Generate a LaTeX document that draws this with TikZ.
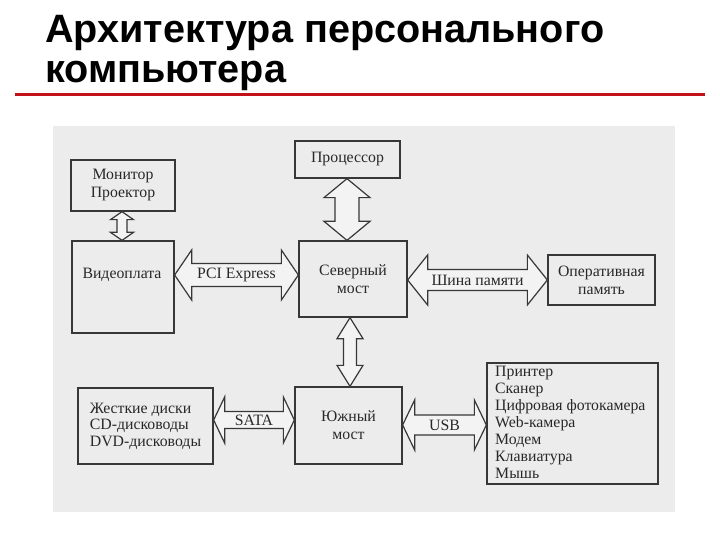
\documentclass[tikz,border=0pt]{standalone}
\usepackage{fontspec}
\setmainfont{Liberation Serif}
\newfontfamily\titlefont{Liberation Sans}
\usetikzlibrary{calc}
\definecolor{scanbg}{RGB}{236,236,236}
\definecolor{ink}{RGB}{40,40,40}
\definecolor{edge}{RGB}{55,55,55}
\definecolor{titlered}{RGB}{192,18,24}
\definecolor{arrfill}{RGB}{243,243,243}
\tikzset{
  box/.style={draw=edge, line width=1.3pt, fill=scanbg, inner sep=0pt, text=ink,
    font=\fontsize{15.8}{18}\selectfont, align=center},
  boxtext/.style={inner sep=0pt, text=ink, font=\fontsize{15.8}{18}\selectfont, align=center},
  blockarr/.style={draw=edge, line width=1.2pt, fill=arrfill, line join=miter},
  arrlabel/.style={text=ink, font=\fontsize{15.8}{18}\selectfont, inner sep=0pt},
  titletext/.style={anchor=base west, inner sep=0pt, text=black,
    font=\titlefont\bfseries\fontsize{39.6}{40}\selectfont},
}
% horizontal double block arrow: left anchor, right anchor, y, head length, head half-height, shaft half-height, label
\newcommand\harr[7]{%
  \draw[blockarr] let \p1=(#1), \p2=(#2), \p3=(0,#3) in
    (\x1,\y3) -- (\x1+#4pt,\y3+#5pt) -- (\x1+#4pt,\y3+#6pt) -- (\x2-#4pt,\y3+#6pt)
    -- (\x2-#4pt,\y3+#5pt) -- (\x2,\y3) -- (\x2-#4pt,\y3-#5pt) -- (\x2-#4pt,\y3-#6pt)
    -- (\x1+#4pt,\y3-#6pt) -- (\x1+#4pt,\y3-#5pt) -- cycle;
  \path let \p1=(#1), \p2=(#2), \p3=(0,#3) in
    ({(\x1+\x2)/2},\y3) node[arrlabel] {#7};}
% vertical double block arrow: top anchor, bottom anchor, x, head length, head half-width, shaft half-width
\newcommand\varr[6]{%
  \draw[blockarr] let \p1=(#1), \p2=(#2), \p3=(#3,0) in
    (\x3,\y1) -- (\x3+#5pt,\y1-#4pt) -- (\x3+#6pt,\y1-#4pt) -- (\x3+#6pt,\y2+#4pt)
    -- (\x3+#5pt,\y2+#4pt) -- (\x3,\y2) -- (\x3-#5pt,\y2+#4pt) -- (\x3-#6pt,\y2+#4pt)
    -- (\x3-#6pt,\y1-#4pt) -- (\x3-#5pt,\y1-#4pt) -- cycle;}
\begin{document}
\begin{tikzpicture}[x=1pt, y=-1pt]
  \useasboundingbox (0,0) rectangle (720,540);
  \fill[white] (0,0) rectangle (720,540);
  % title
  \node[titletext] (title1) at (45,43) {Архитектура персонального};
  \node[titletext] (title2) at (45,83) {компьютера};
  \draw[titlered, line width=3pt] (15,95) -- (705,95);
  % scanned page background
  \fill[scanbg] (53,126) rectangle (675,512);
  % boxes
  \node[box, minimum width=104pt, minimum height=51pt] (mon) at (123,185.5) {Монитор\\Проектор};
  \node[box, minimum width=102pt, minimum height=92pt] (vid) at (123,287) {};
  \node[boxtext] (vidtext) at (122,275) {Видеоплата};
  \node[box, minimum width=105pt, minimum height=37pt] (cpu) at (347.5,159.5) {Процессор};
  \node[box, minimum width=108pt, minimum height=76pt] (nb) at (353,279) {Северный\\мост};
  \node[box, minimum width=107pt, minimum height=50pt] (ram) at (601.5,280) {Оперативная\\память};
  \node[box, minimum width=135pt, minimum height=76pt, align=left,
        font=\fontsize{15.8}{16.5}\selectfont] (hdd) at (145.5,426)
        {Жесткие диски\\CD-дисководы\\DVD-дисководы};
  \node[box, minimum width=107pt, minimum height=77pt] (sb) at (348.5,425.5) {Южный\\мост};
  \node[box, minimum width=171pt, minimum height=121pt] (dev) at (572.5,423.5) {};
  \node[boxtext, anchor=west, align=left, font=\fontsize{15.8}{17}\selectfont]
        (devtext) at (495,422) {Принтер\\Сканер\\Цифровая фотокамера\\Web-камера\\Модем\\Клавиатура\\Мышь};
  % connectors
  \varr{mon.south}{vid.north}{122}{8}{11.5}{5}
  \varr{cpu.south}{nb.north}{347}{19}{23}{12}
  \varr{nb.south}{sb.north}{350}{21}{13}{6.5}
  \harr{vid.east}{nb.west}{275}{17}{25}{11.5}{PCI Express}
  \harr{nb.east}{ram.west}{280}{20}{25}{10.5}{Шина памяти}
  \harr{hdd.east}{sb.west}{420}{11}{23}{8.5}{SATA}
  \harr{sb.east}{dev.west}{425}{12}{25}{10}{USB}
\end{tikzpicture}
\end{document}
